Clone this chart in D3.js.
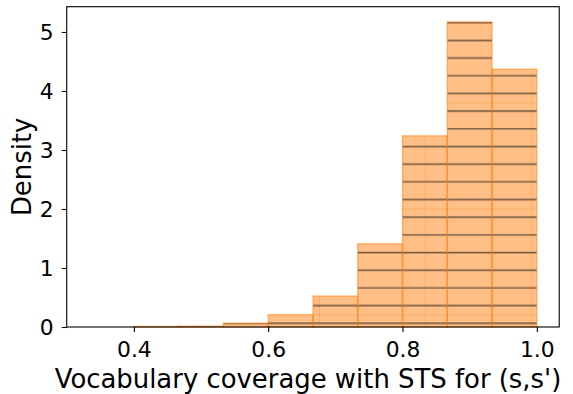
<!DOCTYPE html>
<html>
<head>
<meta charset="utf-8">
<script src="https://cdn.jsdelivr.net/npm/d3@7"></script>
<style>
  body { margin: 0; background: #fff; }
  text { font-family: "DejaVu Sans", sans-serif; fill: #000; }
</style>
</head>
<body>
<svg id="chart" width="573" height="394"></svg>
<script>
// histogram bins (left edges) and density values
var binEdges = [1/3, 0.4, 0.4667, 0.5333, 0.6, 0.6667, 0.7333, 0.8, 0.8667, 0.9333, 1.0];
var densities = [0, 0.01, 0.015, 0.065, 0.21, 0.525, 1.41, 3.24, 5.17, 4.37];
var xTicks = [0.4, 0.6, 0.8, 1.0];
var yTicks = [0, 1, 2, 3, 4, 5];

var HATCH_STEP = 17.68;   // six lines per hatch tile
var TILE = HATCH_STEP * 6;

function buildBins(edges, values) {
    return values.map((v, i) => { return {x0: edges[i], x1: edges[i + 1], y: v}; });
}

document.addEventListener("DOMContentLoaded", () => {
    let svg = d3.select("#chart");
    let left = 66.7, right = 559.2, top = 6.7, bottom = 327;

    let x = d3.scaleLinear().domain([0.3, 1.0333]).range([left, right]);
    let y = d3.scaleLinear().domain([0, 5.4285]).range([bottom, top]);

    let bins = buildBins(binEdges, densities);

    // hatch pattern: dark horizontal lines, faint tile seams
    let defs = svg.append("defs");
    let pat = defs.append("pattern")
        .attr("id", "hatch")
        .attr("patternUnits", "userSpaceOnUse")
        .attr("x", 320).attr("y", 102.3)
        .attr("width", TILE).attr("height", TILE);
    pat.append("rect")
        .attr("x", 0).attr("y", -0.5).attr("width", TILE).attr("height", 1)
        .attr("fill", "rgba(255,127,14,0.5)");
    pat.append("rect")
        .attr("x", TILE - 0.5).attr("y", 0).attr("width", 1).attr("height", TILE)
        .attr("fill", "rgba(255,127,14,0.5)");
    pat.append("rect")
        .attr("x", TILE - 0.5).attr("y", TILE - 0.5).attr("width", TILE).attr("height", 1)
        .attr("fill", "rgba(255,127,14,0.5)");
    d3.range(6).forEach(i => {
        pat.append("line")
            .attr("x1", 0).attr("x2", TILE)
            .attr("y1", HATCH_STEP / 2 + i * HATCH_STEP)
            .attr("y2", HATCH_STEP / 2 + i * HATCH_STEP)
            .attr("stroke", "rgba(0,0,0,0.5)")
            .attr("stroke-width", 1.6);
    });

    let bars = svg.append("g").attr("class", "bars")
        .selectAll("g")
        .data(bins.filter(d => d.y > 0))
        .enter().append("g");

    bars.append("rect")
        .attr("x", d => x(d.x0))
        .attr("y", d => y(d.y))
        .attr("width", d => x(d.x1) - x(d.x0))
        .attr("height", d => y(0) - y(d.y))
        .attr("fill", "rgba(255,127,14,0.5)");

    bars.append("rect")
        .attr("x", d => x(d.x0))
        .attr("y", d => y(d.y))
        .attr("width", d => x(d.x1) - x(d.x0))
        .attr("height", d => y(0) - y(d.y))
        .attr("fill", "url(#hatch)")
        .attr("stroke", "rgba(255,127,14,0.5)")
        .attr("stroke-width", 1.4);

    // axes
    let xAxis = svg.append("g")
        .attr("transform", "translate(0," + bottom + ")")
        .call(d3.axisBottom(x).tickValues(xTicks).tickFormat(d3.format(".1f"))
            .tickSize(5).tickPadding(5).tickSizeOuter(0));
    let yAxis = svg.append("g")
        .attr("transform", "translate(" + left + ",0)")
        .call(d3.axisLeft(y).tickValues(yTicks).tickFormat(d3.format("d"))
            .tickSize(5).tickPadding(8).tickSizeOuter(0));

    for (let ax of [xAxis, yAxis]) {
        ax.select(".domain").remove();
        ax.selectAll(".tick line").attr("stroke", "#000").attr("stroke-width", 1.1);
        ax.selectAll(".tick text")
            .style("font-family", "DejaVu Sans")
            .style("font-size", "21.8px");
    }
    xAxis.selectAll(".tick text").attr("dy", null).attr("y", 30);
    yAxis.selectAll(".tick text").attr("dy", "0.36em");

    // frame
    svg.append("rect")
        .attr("x", left).attr("y", top)
        .attr("width", right - left).attr("height", bottom - top)
        .attr("fill", "none")
        .attr("stroke", "#000")
        .attr("stroke-width", 1.1);

    svg.append("text")
        .attr("x", 308)
        .attr("y", 388)
        .attr("text-anchor", "middle")
        .style("font-size", "25.9px")
        .text("Vocabulary coverage with STS for (s,s')");

    svg.append("text")
        .attr("transform", "translate(31," + (top + bottom) / 2 + ") rotate(-90)")
        .attr("text-anchor", "middle")
        .style("font-size", "25.9px")
        .text("Density");
});
</script>
</body>
</html>
